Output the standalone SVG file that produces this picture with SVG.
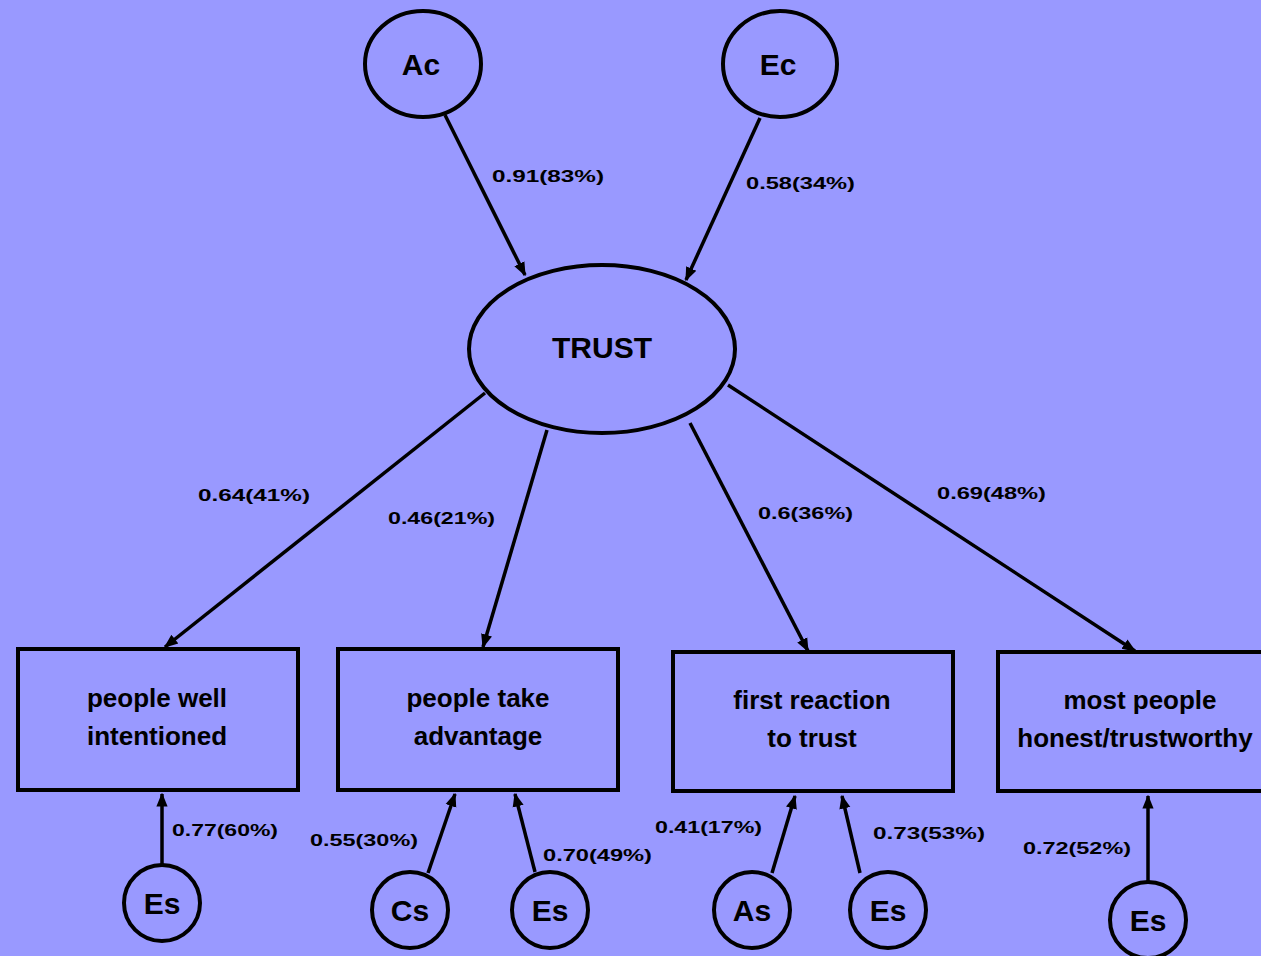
<svg xmlns="http://www.w3.org/2000/svg" width="1261" height="956" viewBox="0 0 1261 956">
<style>
.bg{fill:#9999ff}
.sh{fill:none;stroke:#000;stroke-width:4}
.ln{fill:none;stroke:#000;stroke-width:3.5}
.lab{font-family:"Liberation Sans",Arial,sans-serif;font-weight:bold;font-size:16px;fill:#000}
.nt{font-family:"Liberation Sans",Arial,sans-serif;font-weight:bold;font-size:26px;fill:#000;text-anchor:middle}
.ct{font-family:"Liberation Sans",Arial,sans-serif;font-weight:bold;font-size:30px;fill:#000;text-anchor:middle}
</style>
<defs>
<marker id="ah" viewBox="0 0 10 10" refX="9" refY="5" markerWidth="4" markerHeight="4" orient="auto" markerUnits="strokeWidth">
<path d="M0,1 L10,5 L0,9 z" fill="#000"/>
</marker>
</defs>
<rect class="bg" x="0" y="0" width="1261" height="956"/>
<g id="connectors">
<line class="ln" x1="445" y1="115" x2="525" y2="275" marker-end="url(#ah)"/>
<line class="ln" x1="760" y1="118" x2="686" y2="280" marker-end="url(#ah)"/>
<line class="ln" x1="485" y1="393" x2="165" y2="647" marker-end="url(#ah)"/>
<line class="ln" x1="547" y1="430" x2="483" y2="647" marker-end="url(#ah)"/>
<line class="ln" x1="690" y1="423" x2="808" y2="651" marker-end="url(#ah)"/>
<line class="ln" x1="728" y1="385" x2="1135" y2="651" marker-end="url(#ah)"/>
<line class="ln" x1="162" y1="865" x2="162" y2="794" marker-end="url(#ah)"/>
<line class="ln" x1="428" y1="873" x2="455" y2="794" marker-end="url(#ah)"/>
<line class="ln" x1="535" y1="872" x2="515" y2="794" marker-end="url(#ah)"/>
<line class="ln" x1="772" y1="873" x2="795" y2="796" marker-end="url(#ah)"/>
<line class="ln" x1="860" y1="873" x2="842" y2="796" marker-end="url(#ah)"/>
<line class="ln" x1="1148" y1="882" x2="1148" y2="796" marker-end="url(#ah)"/>
<text class="lab" x="492" y="182" textLength="112" lengthAdjust="spacingAndGlyphs">0.91(83%)</text>
<text class="lab" x="746" y="189" textLength="109" lengthAdjust="spacingAndGlyphs">0.58(34%)</text>
<text class="lab" x="198" y="501" textLength="112" lengthAdjust="spacingAndGlyphs">0.64(41%)</text>
<text class="lab" x="388" y="524" textLength="107" lengthAdjust="spacingAndGlyphs">0.46(21%)</text>
<text class="lab" x="758" y="519" textLength="95" lengthAdjust="spacingAndGlyphs">0.6(36%)</text>
<text class="lab" x="937" y="499" textLength="109" lengthAdjust="spacingAndGlyphs">0.69(48%)</text>
<text class="lab" x="172" y="836" textLength="106" lengthAdjust="spacingAndGlyphs">0.77(60%)</text>
<text class="lab" x="310" y="846" textLength="108" lengthAdjust="spacingAndGlyphs">0.55(30%)</text>
<text class="lab" x="543" y="861" textLength="109" lengthAdjust="spacingAndGlyphs">0.70(49%)</text>
<text class="lab" x="655" y="833" textLength="107" lengthAdjust="spacingAndGlyphs">0.41(17%)</text>
<text class="lab" x="873" y="839" textLength="112" lengthAdjust="spacingAndGlyphs">0.73(53%)</text>
<text class="lab" x="1023" y="854" textLength="108" lengthAdjust="spacingAndGlyphs">0.72(52%)</text>
</g>
<g id="Ac"><ellipse class="sh" cx="423" cy="64" rx="58" ry="53"/><text class="ct" x="421" y="75">Ac</text></g>
<g id="Ec"><ellipse class="sh" cx="780" cy="64" rx="57" ry="53"/><text class="ct" x="778" y="75">Ec</text></g>
<g id="TRUST"><ellipse class="sh" cx="602" cy="349" rx="133" ry="84"/><text class="ct" x="602" y="358" font-size="30">TRUST</text></g>
<g id="box1"><rect class="sh" x="18" y="649" width="280" height="141"/><text class="nt" x="157" y="707">people well</text><text class="nt" x="157" y="745">intentioned</text></g>
<g id="box2"><rect class="sh" x="338" y="649" width="280" height="141"/><text class="nt" x="478" y="707">people take</text><text class="nt" x="478" y="745">advantage</text></g>
<g id="box3"><rect class="sh" x="673" y="652" width="280" height="139"/><text class="nt" x="812" y="709">first reaction</text><text class="nt" x="812" y="747">to trust</text></g>
<g id="box4"><rect class="sh" x="998" y="652" width="275" height="139"/><text class="nt" x="1140" y="709">most people</text><text class="nt" x="1135" y="747">honest/trustworthy</text></g>
<g id="Es1"><circle class="sh" cx="162" cy="903" r="38"/><text class="ct" x="162" y="914">Es</text></g>
<g id="Cs"><circle class="sh" cx="410" cy="910" r="38"/><text class="ct" x="410" y="921">Cs</text></g>
<g id="Es2"><circle class="sh" cx="550" cy="910" r="38"/><text class="ct" x="550" y="921">Es</text></g>
<g id="As"><circle class="sh" cx="752" cy="910" r="38"/><text class="ct" x="752" y="921">As</text></g>
<g id="Es3"><circle class="sh" cx="888" cy="910" r="38"/><text class="ct" x="888" y="921">Es</text></g>
<g id="Es4"><circle class="sh" cx="1148" cy="920" r="38"/><text class="ct" x="1148" y="931">Es</text></g>
</svg>
